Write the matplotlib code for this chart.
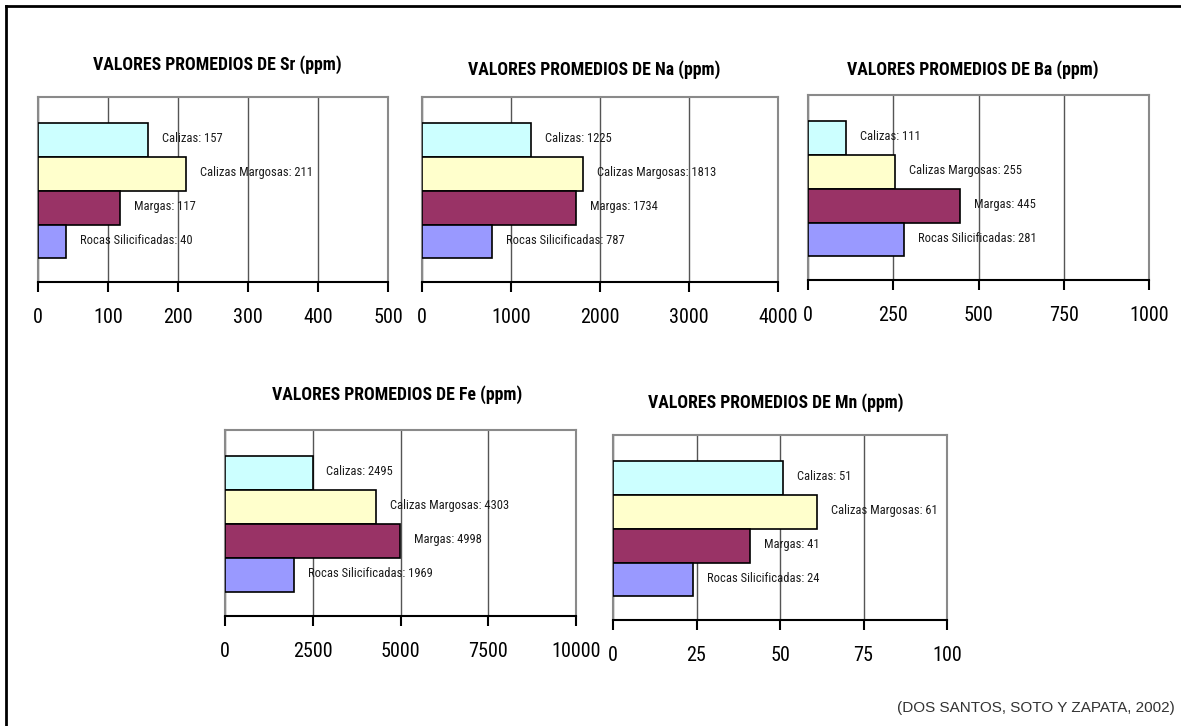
import matplotlib
matplotlib.use("Agg")
import matplotlib.pyplot as plt
from matplotlib.lines import Line2D
from matplotlib import font_manager

# Rock types (top to bottom) and fill colours
categories = ["Calizas", "Calizas Margosas", "Margas", "Rocas Silicificadas"]
colors = ["#CCFFFF", "#FFFFCC", "#993366", "#9999FF"]

# Mean concentrations (ppm) per element
sr_values = [157, 211, 117, 40]
na_values = [1225, 1813, 1734, 787]
ba_values = [111, 255, 445, 281]
fe_values = [2495, 4303, 4998, 1969]
mn_values = [51, 61, 41, 24]

# Axis ticks per element
sr_ticks = [0, 100, 200, 300, 400, 500]
na_ticks = [0, 1000, 2000, 3000, 4000]
ba_ticks = [0, 250, 500, 750, 1000]
fe_ticks = [0, 2500, 5000, 7500, 10000]
mn_ticks = [0, 25, 50, 75, 100]

elements = ["Sr", "Na", "Ba", "Fe", "Mn"]
source = "(DOS SANTOS, SOTO Y ZAPATA, 2002)"

W, H = 1181, 726

# pick a condensed sans if one is installed
installed = {f.name for f in font_manager.fontManager.ttflist}
narrow_name = next((n for n in ["Liberation Sans Narrow", "Arial Narrow",
                                "Roboto Condensed", "Open Sans Condensed",
                                "Noto Sans Condensed", "DejaVu Sans Condensed"]
                    if n in installed), None)
if narrow_name:
    NARROW = [narrow_name, "DejaVu Sans"]
    STRETCH = "normal"
else:
    NARROW = ["DejaVu Sans"]
    STRETCH = "condensed"

fig = plt.figure(figsize=(W / 100, H / 100), dpi=100)
fig.patch.set_facecolor("white")


def px_rect(x0, x1, ytop, ybot):
    return [x0 / W, 1 - ybot / H, (x1 - x0) / W, (ybot - ytop) / H]


# panel layout: (plot box in px, title centre in px)
panels = [
    (px_rect(38, 388, 97, 282), (217, 65), sr_values, sr_ticks),
    (px_rect(422, 778, 97, 282), (594, 70), na_values, na_ticks),
    (px_rect(808, 1149, 95, 280), (973, 70), ba_values, ba_ticks),
    (px_rect(225, 576, 430, 616), (397, 395), fe_values, fe_ticks),
    (px_rect(613, 947, 435, 620), (776, 403), mn_values, mn_ticks),
]

for elem, (rect, (tx, ty), vals, ticks) in zip(elements, panels):
    ax = fig.add_axes(rect)
    ypos = [3, 2, 1, 0]
    ax.barh(ypos, vals, height=1.0, color=colors, edgecolor="black",
            linewidth=1.2, zorder=3)
    ax.set_xlim(ticks[0], ticks[-1])
    ax.set_ylim(-1.2, 4.27)
    ax.set_xticks(ticks)
    ax.set_xticklabels([str(t) for t in ticks], family=NARROW,
                       fontstretch=STRETCH, fontsize=14.5)
    ax.set_yticks([])
    ax.xaxis.grid(True, color="#555555", linewidth=1.0, zorder=1)
    ax.tick_params(axis="x", direction="out", length=7, width=1.5,
                   color="black", pad=12)
    for side in ("top", "right", "left"):
        ax.spines[side].set_color("#8a8a8a")
        ax.spines[side].set_linewidth(1.5)
    ax.spines["bottom"].set_color("black")
    ax.spines["bottom"].set_linewidth(1.5)
    ax.spines["bottom"].set_zorder(4)

    for y, v, name in zip(ypos, vals, categories):
        ax.annotate(f"{name}: {v}", xy=(v, y), xytext=(10, 1),
                    textcoords="offset points", ha="left", va="center",
                    family=NARROW, fontstretch=STRETCH, fontsize=9,
                    color="#1a1a1a", zorder=5)

    fig.text(tx / W, 1 - ty / H, f"VALORES PROMEDIOS DE {elem} (ppm)",
             ha="center", va="center", family=NARROW, fontstretch=STRETCH,
             fontsize=12.8, fontweight="bold", color="black")

# source note
fig.text(1175 / W, 1 - 708 / H, source, ha="right", va="center",
         family=["Liberation Sans", "DejaVu Sans"], fontsize=11,
         color="#333333")

# frame along the top and left edges
fig.add_artist(Line2D([6 / W, 6 / W], [0, 1 - 6 / H], color="black",
                      linewidth=2, transform=fig.transFigure))
fig.add_artist(Line2D([6 / W, 1], [1 - 6 / H, 1 - 6 / H], color="black",
                      linewidth=2, transform=fig.transFigure))

fig.savefig("out.png", dpi=100, facecolor="white")
